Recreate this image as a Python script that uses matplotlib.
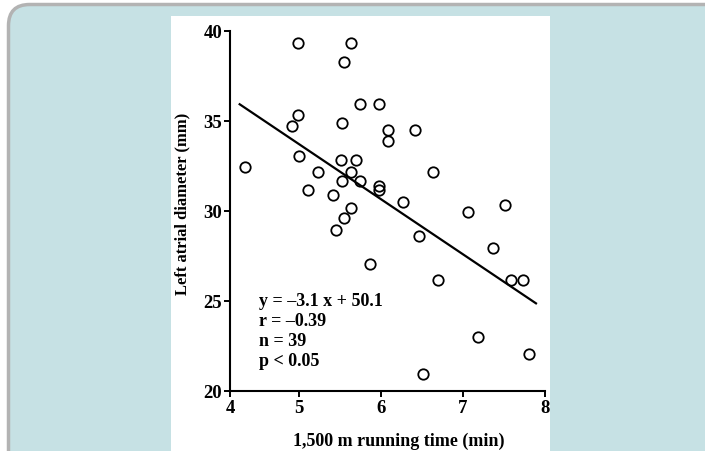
import numpy as np
import matplotlib
matplotlib.use('Agg')
import matplotlib.pyplot as plt
from matplotlib.patches import FancyBboxPatch, Rectangle

# 1,500 m running time (min)
run_time = [4.22, 4.99, 5.64, 5.55, 5.74, 5.97, 4.98, 4.90, 5.52, 6.09,
            6.42, 6.09, 5.00, 5.51, 5.70, 5.23, 5.64, 6.64, 5.52, 5.74,
            5.97, 5.97, 5.11, 5.41, 6.27, 5.64, 7.06, 7.51, 5.55, 5.45,
            6.46, 7.37, 5.87, 6.69, 7.58, 7.73, 7.18, 7.81, 6.51]
# left atrial diameter (mm)
la_diam = [32.43, 39.32, 39.32, 38.30, 35.94, 35.94, 35.35, 34.74, 34.89, 34.50,
           34.50, 33.87, 33.04, 32.82, 32.82, 32.15, 32.15, 32.15, 31.65, 31.67,
           31.39, 31.17, 31.18, 30.87, 30.52, 30.18, 29.93, 30.32, 29.59, 28.93,
           28.63, 27.93, 27.06, 26.17, 26.17, 26.17, 23.02, 22.07, 20.96]

# regression line as drawn
fit_x = [4.14, 7.89]
fit_y = [35.93, 24.87]

stats_text = "y = \u20133.1 x + 50.1\nr = \u20130.39\nn = 39\np < 0.05"
x_ticks = [4, 5, 6, 7, 8]
y_ticks = [20, 25, 30, 35, 40]

plt.rcParams['font.family'] = ['Liberation Serif', 'DejaVu Serif']
plt.rcParams['font.weight'] = 'bold'

W, H = 705, 451
fig = plt.figure(figsize=(W / 100, H / 100), dpi=100)
fig.patch.set_facecolor('white')

# teal page background with rounded grey border
bg = FancyBboxPatch((8.5 / W, -0.2), (W + 100) / W, 1 - 4.5 / H + 0.2,
                    boxstyle="round,pad=0,rounding_size=0.03",
                    transform=fig.transFigure, facecolor='#c6e1e4',
                    edgecolor='#b3b3b3', linewidth=2.5, zorder=-2,
                    mutation_aspect=W / H)
fig.patches.append(bg)
# white panel behind the chart
panel = Rectangle((171 / W, 0), (550 - 171) / W, 1 - 16 / H,
                  transform=fig.transFigure, facecolor='white',
                  edgecolor='none', zorder=-1)
fig.patches.append(panel)

ax = fig.add_axes([230 / W, 1 - 391 / H, (545 - 230) / W, (391 - 31) / H])
ax.set_zorder(5)
ax.patch.set_alpha(0)

# the original x axis is squeezed between 4 and 5
k = 69 / 82
def fwd(x):
    x = np.asarray(x, dtype=float)
    return np.where(x < 5, 5 - (5 - x) * k, x)
def inv(u):
    u = np.asarray(u, dtype=float)
    return np.where(u < 5, 5 - (5 - u) / k, u)
ax.set_xscale('function', functions=(fwd, inv))

ax.plot(run_time, la_diam, 'o', ms=7.5, mfc='none', mec='black', mew=1.3,
        clip_on=False, zorder=3)
ax.plot(fit_x, fit_y, color='black', lw=1.6, zorder=2)

ax.set_xlim(4, 8)
ax.set_ylim(20, 40)
ax.set_xticks(x_ticks)
ax.set_yticks(y_ticks)
ax.set_xticklabels([str(t) for t in x_ticks])
ax.set_yticklabels([str(t) for t in y_ticks])
ax.xaxis.set_minor_locator(matplotlib.ticker.NullLocator())

for s in ['top', 'right']:
    ax.spines[s].set_visible(False)
for s in ['left', 'bottom']:
    ax.spines[s].set_linewidth(1.5)
ax.tick_params(axis='both', length=4.5, width=1.4, labelsize=13.5, direction='out')
ax.tick_params(axis='x', pad=2)
ax.tick_params(axis='y', pad=1)

ax.text(0.091, 0.165, stats_text, transform=ax.transAxes, fontsize=13,
        va='center', ha='left', linespacing=1.25)

fig.text(399 / W, 1 - 441.7 / H, "1,500 m running time (min)", fontsize=13,
         ha='center', va='center')
fig.text(182 / W, 1 - 204 / H, "Left atrial diameter (mm)", fontsize=12,
         ha='center', va='center', rotation=90)

fig.savefig('out.png', dpi=100)
